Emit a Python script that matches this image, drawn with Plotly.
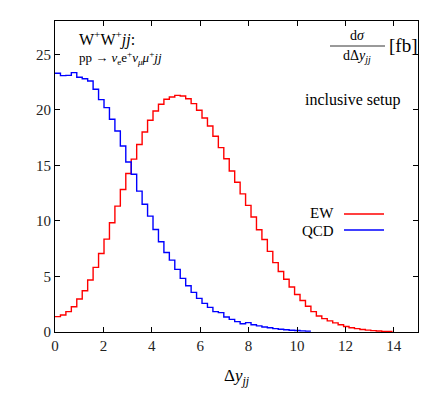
import numpy as np
import plotly.graph_objects as go

# ---- data ----
bin_width = 0.225  # width of each Δy_jj bin

ew_values = [1.38, 1.53, 1.83, 2.28, 2.97, 3.72, 4.68, 5.82, 7.07, 8.36,
             9.83, 11.33, 12.83, 14.27, 15.56, 16.88, 18.0, 19.07, 19.9, 20.5,
             20.95, 21.16, 21.3, 21.25, 21.0, 20.56, 19.96, 19.27, 18.55, 17.63,
             16.6, 15.6, 14.5, 13.48, 12.44, 11.4, 10.35, 9.2, 8.33, 7.26,
             6.25, 5.45, 4.75, 4.05, 3.38, 2.84, 2.32, 1.83, 1.44, 1.2,
             1.0, 0.82, 0.65, 0.5, 0.38, 0.3, 0.22, 0.17, 0.12, 0.09,
             0.06, 0.04]

qcd_values = [23.3, 23.08, 23.1, 23.35, 22.93, 22.8, 22.6, 21.85, 20.92, 20.2,
              19.15, 18.1, 16.75, 15.3, 14.2, 12.68, 11.5, 10.43, 9.23, 8.12,
              7.16, 6.47, 5.64, 4.83, 4.17, 3.57, 3.03, 2.58, 2.22, 1.83,
              1.74, 1.35, 1.14, 0.93, 0.74, 0.84, 0.65, 0.55, 0.45, 0.38,
              0.3, 0.25, 0.2, 0.16, 0.13, 0.1, 0.08]

x_ticks = [0, 2, 4, 6, 8, 10, 12, 14]
y_ticks = [0, 5, 10, 15, 20, 25]

series_names = ["EW", "QCD"]
series_colors = ["#ff0000", "#0000ff"]

FONT = "Liberation Serif"

# page has an 8px body margin; plot area in page pixels: x 55..418, y 21..332
OFF = 8
PL, PR, PT, PB = 55, 418, 21, 332


def step_xy(values):
    vals = list(values)
    edges = np.arange(len(vals) + 1) * bin_width
    return list(edges), vals + [vals[-1]]


fig = go.Figure()
for name, vals, col in zip(series_names, [ew_values, qcd_values], series_colors):
    xs, ys = step_xy(vals)
    fig.add_trace(go.Scatter(x=xs, y=ys, mode="lines", line_shape="hv",
                             name=name, line=dict(color=col, width=1.4),
                             showlegend=False, hoverinfo="skip"))

axis_common = dict(showline=True, linecolor="black", linewidth=1, mirror="ticks",
                   ticks="inside", ticklen=5, tickcolor="black", showgrid=False,
                   zeroline=False, tickfont=dict(family=FONT, size=15, color="#222"))

fig.update_xaxes(range=[0, 15], tickvals=x_ticks, **axis_common,
                 title=dict(text="Δ<i>y</i><sub><i>jj</i></sub>",
                            font=dict(family=FONT, size=17, color="black"), standoff=16))
fig.update_yaxes(range=[0, 28], tickvals=y_ticks, **axis_common)


def px2x(px):
    return (px - PL) / float(PR - PL)


def py2y(py):
    return (PB - py) / float(PB - PT)


annos = [
    dict(text="W<sup>+</sup>W<sup>+</sup><i>jj</i>:", x=px2x(77), y=py2y(39),
         xanchor="left", size=16),
    dict(text="pp → <i>ν</i><sub>e</sub>e<sup>+</sup><i>ν</i><sub><i>μ</i></sub><i>μ</i><sup>+</sup><i>jj</i>",
         x=px2x(77), y=py2y(58), xanchor="left", size=13),
    dict(text="d<i>σ</i>", x=px2x(357), y=py2y(36), xanchor="center", size=14),
    dict(text="dΔ<i>y</i><sub><i>jj</i></sub>", x=px2x(357), y=py2y(57), xanchor="center", size=14),
    dict(text="[fb]", x=px2x(387), y=py2y(45), xanchor="left", size=19),
    dict(text="inclusive setup", x=px2x(403), y=py2y(100), xanchor="right", size=16),
    dict(text=series_names[0], x=px2x(336), y=py2y(213), xanchor="right", size=15),
    dict(text=series_names[1], x=px2x(336), y=py2y(231), xanchor="right", size=15),
]
for a in annos:
    fig.add_annotation(text=a["text"], x=a["x"], y=a["y"], xref="paper", yref="paper",
                       xanchor=a["xanchor"], yanchor="middle", showarrow=False,
                       font=dict(family=FONT, size=a["size"], color="black"))

# fraction bar
fig.add_shape(type="line", xref="paper", yref="paper", x0=px2x(330), x1=px2x(385),
              y0=py2y(46), y1=py2y(46), line=dict(color="black", width=0.8))
# legend sample lines
for py, col in zip([214, 230], series_colors):
    fig.add_shape(type="line", xref="paper", yref="paper", x0=px2x(344), x1=px2x(384),
                  y0=py2y(py), y1=py2y(py), line=dict(color=col, width=1.4))

fig.update_layout(width=436 - OFF, height=394 - OFF,
                  margin=dict(l=PL - OFF, r=436 - PR, t=PT - OFF, b=394 - PB),
                  plot_bgcolor="white", paper_bgcolor="white",
                  font=dict(family=FONT, color="black"))

fig.write_html("out.html")
